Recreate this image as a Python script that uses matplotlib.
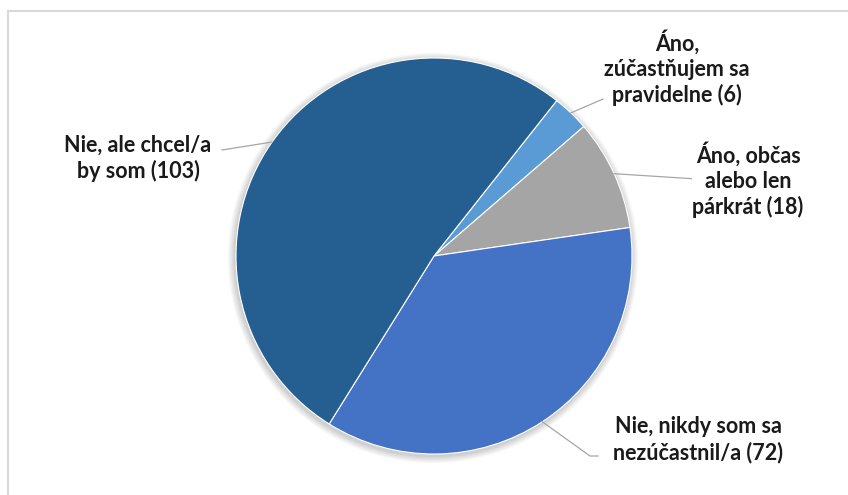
import matplotlib.pyplot as plt
import numpy as np
from matplotlib.patches import Rectangle, Circle

# data
labels = ['Áno,\nzúčastňujem sa\npravidelne (6)',
          'Áno, občas\nalebo len\npárkrát (18)',
          'Nie, nikdy som sa\nnezúčastnil/a (72)',
          'Nie, ale chcel/a\nby som (103)']
values = [6, 18, 72, 103]
colors = ['#5B9BD5', '#A5A5A5', '#4472C4', '#255E91']

W, H = 848, 495
fig = plt.figure(figsize=(W / 100, H / 100), dpi=100)
ax = fig.add_axes([0, 0, 1, 1])

# chart border (cut off at right/bottom like the screenshot)
fig.patches.append(Rectangle((8 / W, -0.1), 1.2, (H - 11) / H + 0.1, transform=fig.transFigure,
                             fill=False, ec='#d9d9d9', lw=1.5))

cx, cy, r = 434, H - 256, 198
start = 51.7

# soft shadow
for k in range(8, 0, -1):
    ax.add_patch(Circle((cx - 1, cy - 2), r + k * 0.9, color='black', alpha=0.025, lw=0, zorder=1))

wedges, _ = ax.pie(values, colors=colors, startangle=start, counterclock=False,
                   center=(cx, cy), radius=r, frame=True,
                   wedgeprops=dict(edgecolor='white', linewidth=0.8, zorder=2))
ax.set_xlim(0, W)
ax.set_ylim(0, H)
ax.set_aspect('equal')
ax.axis('off')

# label positions (text center) and leader elbow points
text_pos = [(677, H - 68), (748, H - 180), (698, H - 440), (138, H - 158)]
elbows = [[(603, H - 99)], [(697, H - 179)], [(598, H - 456), (590, H - 456)], [(222, H - 150)]]

for w, lab, (tx, ty), el in zip(wedges, labels, text_pos, elbows):
    ang = np.deg2rad((w.theta1 + w.theta2) / 2)
    px, py = cx + r * np.cos(ang), cy + r * np.sin(ang)
    pts = el + [(px, py)]
    xs, ys = zip(*pts)
    ax.plot(xs, ys, color='#a6a6a6', lw=0.9, zorder=3)
    ax.text(tx, ty, lab, ha='center', va='center', fontsize=15.5, fontweight='bold',
            family='Lato', color='#1a1a1a', linespacing=1.25, zorder=4,
            bbox=dict(fc='white', ec='none', pad=0.5))

fig.savefig('out.png', dpi=100)
